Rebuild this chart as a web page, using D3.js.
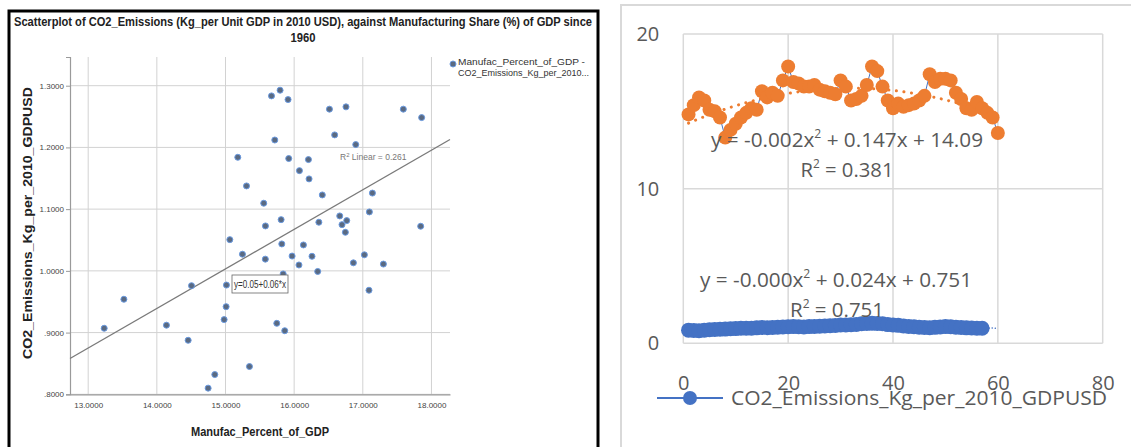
<!DOCTYPE html>
<html><head><meta charset="utf-8">
<script src="https://cdn.jsdelivr.net/npm/d3@7"></script>
<style>
html,body{margin:0;padding:0;background:#fff;}
svg{display:block;}
</style></head>
<body>
<svg id="c" width="1131" height="447"></svg>
<script>
// ---------- LEFT PANEL DATA (SPSS scatter) ----------
const manufPct = [13.233,13.52,14.14,14.456,14.505,14.747,14.844,14.98,15.009,15.014,15.154,15.247,15.349,15.58,15.747,15.84,15.863,15.97,16.07,16.26,16.343,16.863,17.023,17.09,17.3,15.67,15.795,15.911,15.718,15.179,15.921,16.077,15.306,15.557,15.582,15.81,15.82,15.063,16.514,16.755,17.59,17.857,16.59,16.897,16.208,16.217,16.41,17.14,17.096,16.664,16.766,16.697,16.746,16.36,17.843,16.135];
const co2Kg = [0.907,0.954,0.912,0.8875,0.976,0.810,0.832,0.921,0.942,0.977,0.972,1.027,0.845,1.019,0.915,0.995,0.903,1.024,1.0095,1.0236,0.999,1.013,1.026,0.9686,1.011,1.2835,1.2927,1.2775,1.212,1.184,1.182,1.1624,1.1376,1.1096,1.0728,1.083,1.0436,1.0506,1.262,1.2657,1.262,1.2483,1.2203,1.2046,1.1803,1.149,1.123,1.126,1.0955,1.089,1.0814,1.0749,1.0625,1.0788,1.0723,1.042];
const leftXTicks = [13,14,15,16,17,18];
const leftXTickLabels = ["13.0000","14.0000","15.0000","16.0000","17.0000","18.0000"];
const leftYTicks = [0.8,0.9,1.0,1.1,1.2,1.3];
const leftYTickLabels = [".8000",".9000","1.0000","1.1000","1.2000","1.3000"];
const linearFit = [0.0417, 0.0641]; // intercept, slope
const leftTitle1 = "Scatterplot of CO2_Emissions (Kg_per Unit GDP in 2010 USD),  against Manufacturing Share (%) of GDP since";
const leftTitle2 = "1960";
const leftXTitle = "Manufac_Percent_of_GDP";
const leftYTitle = "CO2_Emissions_Kg_per_2010_GDPUSD";
const leftLegend = ["Manufac_Percent_of_GDP -","CO2_Emissions_Kg_per_2010..."];
const fitLabel = "y=0.05+0.06*x";

// ---------- RIGHT PANEL DATA (Excel) ----------
const manufSeries = [14.8,15.4,15.9,15.7,15.1,15.0,14.6,13.3,13.8,14.2,14.6,14.9,15.2,15.1,16.3,15.9,16.2,16.0,17.0,17.9,16.9,16.8,16.6,16.6,16.7,16.4,16.3,16.2,16.1,17.0,16.6,15.7,15.8,16.0,16.7,17.9,17.6,16.6,15.7,15.2,15.5,15.3,15.4,15.5,15.7,16.0,17.4,16.9,17.1,17.1,17.0,16.2,15.8,15.2,15.1,15.6,15.2,14.9,14.6,13.6];
const co2Series = [0.85,0.83,0.81,0.84,0.88,0.90,0.91,0.92,0.94,0.95,0.97,0.98,0.98,1.00,1.02,1.01,1.02,1.04,1.05,1.07,1.08,1.07,1.06,1.08,1.09,1.11,1.12,1.14,1.15,1.18,1.18,1.20,1.22,1.26,1.28,1.29,1.28,1.26,1.21,1.18,1.16,1.12,1.09,1.07,1.04,1.02,1.01,1.03,1.05,1.08,1.07,1.04,1.02,1.00,0.99,0.97,0.97];
const manufTrend = [-0.00235, 0.1505, 14.09]; // a,b,c
const co2Trend = [-0.00034, 0.024, 0.751];
const rightXTicks = [0,20,40,60,80];
const rightYTicks = [0,10,20];
const rightLegend = "CO2_Emissions_Kg_per_2010_GDPUSD";

const svg = d3.select("#c");
const FONT = "'Liberation Sans', Arial, sans-serif";

// ================= LEFT PANEL =================
const L = svg.append("g");
L.append("rect").attr("x",9).attr("y",11).attr("width",589).attr("height",460)
  .attr("fill","#fff").attr("stroke","#000").attr("stroke-width",3);

const lx = d3.scaleLinear().domain([12.735, 18.27]).range([70, 450]);
const ly = d3.scaleLinear().domain([0.8, 1.3465]).range([394.3, 57]);

L.append("g").selectAll("line").data(leftXTicks).join("line")
  .attr("x1",d=>lx(d)).attr("x2",d=>lx(d)).attr("y1",ly.range()[1]).attr("y2",ly.range()[0])
  .attr("stroke","#d2d2d2").attr("stroke-width",1);
L.append("g").selectAll("line").data(leftYTicks).join("line")
  .attr("x1",70).attr("x2",450).attr("y1",d=>ly(d)).attr("y2",d=>ly(d))
  .attr("stroke","#d2d2d2").attr("stroke-width",1);

const yAxL = L.append("g").attr("transform","translate(70,0)")
  .call(d3.axisLeft(ly).tickValues(leftYTicks).tickSize(4).tickPadding(2)
    .tickFormat((d,i)=>leftYTickLabels[i]));
const xAxL = L.append("g").attr("transform","translate(0,394.3)")
  .call(d3.axisBottom(lx).tickValues(leftXTicks).tickSize(0).tickPadding(8)
    .tickFormat((d,i)=>leftXTickLabels[i]));
[yAxL,xAxL].forEach(a=>{
  a.select(".domain").attr("stroke","#9a9a9a").attr("stroke-width",1.2);
  a.selectAll(".tick line").attr("stroke","#9a9a9a");
  a.selectAll("text").attr("font-family",FONT).attr("font-size",8).attr("fill","#444");
});

L.append("line")
  .attr("x1",lx(lx.domain()[0])).attr("y1",ly(linearFit[0]+linearFit[1]*lx.domain()[0]))
  .attr("x2",lx(lx.domain()[1])).attr("y2",ly(linearFit[0]+linearFit[1]*lx.domain()[1]))
  .attr("stroke","#7a7a7a").attr("stroke-width",1.3);

L.append("g").selectAll("circle").data(manufPct).join("circle")
  .attr("cx",d=>lx(d)).attr("cy",(d,i)=>ly(co2Kg[i])).attr("r",3)
  .attr("fill","#5a6a82").attr("stroke","#6a9ae0").attr("stroke-width",1);

const fb = L.append("g");
fb.append("rect").attr("x",232).attr("y",275).attr("width",56).attr("height",18)
  .attr("fill","#fff").attr("stroke","#666").attr("stroke-width",0.8);
fb.append("text").attr("x",234).attr("y",288).text(fitLabel)
  .attr("font-family",FONT).attr("font-size",10).attr("fill","#333")
  .attr("textLength",52).attr("lengthAdjust","spacingAndGlyphs");
const r2t = L.append("text").attr("x",340).attr("y",160).attr("font-family",FONT)
  .attr("font-size",8.5).attr("fill","#777");
r2t.append("tspan").text("R");
r2t.append("tspan").text("2").attr("font-size",6).attr("dy",-3);
r2t.append("tspan").text(" Linear = 0.261").attr("dy",3);

L.append("text").attr("x",303).attr("y",26).attr("text-anchor","middle").text(leftTitle1)
  .attr("font-family",FONT).attr("font-size",12).attr("font-weight","bold").attr("fill","#222")
  .attr("textLength",578).attr("lengthAdjust","spacingAndGlyphs");
L.append("text").attr("x",303).attr("y",42).attr("text-anchor","middle").text(leftTitle2)
  .attr("font-family",FONT).attr("font-size",12).attr("font-weight","bold").attr("fill","#222")
  .attr("textLength",25).attr("lengthAdjust","spacingAndGlyphs");
L.append("text").attr("x",260).attr("y",436).attr("text-anchor","middle").text(leftXTitle)
  .attr("font-family",FONT).attr("font-size",12.5).attr("font-weight","bold").attr("fill","#222")
  .attr("textLength",138).attr("lengthAdjust","spacingAndGlyphs");
L.append("text").attr("transform","translate(32,223) rotate(-90)").attr("text-anchor","middle").text(leftYTitle)
  .attr("font-family",FONT).attr("font-size",13).attr("font-weight","bold").attr("fill","#222")
  .attr("textLength",272).attr("lengthAdjust","spacingAndGlyphs");

L.append("circle").attr("cx",453).attr("cy",64).attr("r",3)
  .attr("fill","#5a6a82").attr("stroke","#6a9ae0").attr("stroke-width",1);
leftLegend.forEach((t,i)=>{
  L.append("text").attr("x",458).attr("y",65+i*10.5).text(t)
    .attr("font-family",FONT).attr("font-size",9).attr("fill","#333")
    .attr("textLength",i===0?127:131).attr("lengthAdjust","spacingAndGlyphs");
});

// ================= RIGHT PANEL =================
const R = svg.append("g");
R.append("rect").attr("x",621).attr("y",5).attr("width",600).attr("height",500)
  .attr("fill","#fff").attr("stroke","#d9d9d9").attr("stroke-width",2);

const rx = d3.scaleLinear().domain([0,80]).range([683.3,1102.7]);
const ry = d3.scaleLinear().domain([0,20]).range([343.3,34]);

R.append("g").selectAll("line").data(rightXTicks).join("line")
  .attr("x1",d=>rx(d)).attr("x2",d=>rx(d)).attr("y1",ry(20)).attr("y2",ry(0))
  .attr("stroke","#d9d9d9").attr("stroke-width",1.5);
R.append("g").selectAll("line").data(rightYTicks).join("line")
  .attr("x1",rx(0)).attr("x2",rx(80)).attr("y1",d=>ry(d)).attr("y2",d=>ry(d))
  .attr("stroke","#d9d9d9").attr("stroke-width",1.5);

const TF = "'Open Sans', 'Noto Sans', sans-serif";
const yAxR = R.append("g").attr("transform",`translate(${rx(0)},0)`)
  .call(d3.axisLeft(ry).tickValues(rightYTicks).tickSize(0).tickPadding(24).tickFormat(d3.format("d")));
const xAxR = R.append("g").attr("transform",`translate(0,${ry(0)})`)
  .call(d3.axisBottom(rx).tickValues(rightXTicks).tickSize(0).tickPadding(30).tickFormat(d3.format("d")));
[yAxR,xAxR].forEach(a=>{
  a.select(".domain").remove();
  a.selectAll("text").attr("font-family",TF).attr("font-size",20).attr("fill","#595959");
});
xAxR.selectAll("text").attr("dy","0.35em").attr("y",40);

const trendXs = d3.range(1, 60.01, 0.25);
function trendPath(c){ return d3.line().x(d=>rx(d)).y(d=>ry(c[0]*d*d+c[1]*d+c[2]))(trendXs); }

const idxM = manufSeries.map((d,i)=>i+1);
R.append("path").attr("d",d3.line().x((d,i)=>rx(idxM[i])).y(d=>ry(d))(manufSeries))
  .attr("fill","none").attr("stroke","#4472c4").attr("stroke-width",1);
R.append("path").attr("d",trendPath(manufTrend)).attr("fill","none")
  .attr("stroke","#ed7d31").attr("stroke-width",3).attr("stroke-linecap","round").attr("stroke-dasharray","0.1,7.5");
R.append("g").selectAll("circle").data(manufSeries).join("circle")
  .attr("cx",(d,i)=>rx(idxM[i])).attr("cy",d=>ry(d)).attr("r",7).attr("fill","#ed7d31");

const idxC = co2Series.map((d,i)=>i+1);
R.append("path").attr("d",trendPath(co2Trend)).attr("fill","none")
  .attr("stroke","#4472c4").attr("stroke-width",1.5).attr("stroke-linecap","round").attr("stroke-dasharray","0.1,3");
R.append("path").attr("d",d3.line().x((d,i)=>rx(idxC[i])).y(d=>ry(d))(co2Series))
  .attr("fill","none").attr("stroke","#4472c4").attr("stroke-width",2);
R.append("g").selectAll("circle").data(co2Series).join("circle")
  .attr("cx",(d,i)=>rx(idxC[i])).attr("cy",d=>ry(d)).attr("r",7.5).attr("fill","#4472c4");

function eq(x,y,a,b,len){
  const t = R.append("text").attr("x",x).attr("y",y).attr("text-anchor","middle")
    .attr("font-family",TF).attr("font-size",20.5).attr("fill","#595959");
  t.append("tspan").text(a);
  t.append("tspan").text("2").attr("font-size",12).attr("dy",-9);
  t.append("tspan").text(b).attr("dy",9);
  if(len) t.attr("textLength",len).attr("lengthAdjust","spacingAndGlyphs");
  return t;
}
eq(847,147,"y = -0.002x"," + 0.147x + 14.09",272);
eq(847,177,"R"," = 0.381",93);
eq(836,287,"y = -0.000x"," + 0.024x + 0.751",272);
eq(837,317,"R"," = 0.751",94);

R.append("line").attr("x1",657).attr("x2",723).attr("y1",398).attr("y2",398)
  .attr("stroke","#4472c4").attr("stroke-width",2);
R.append("circle").attr("cx",690).attr("cy",398).attr("r",7).attr("fill","#4472c4");
R.append("text").attr("x",731).attr("y",405).text(rightLegend)
  .attr("font-family",TF).attr("font-size",20).attr("fill","#595959")
  .attr("textLength",376).attr("lengthAdjust","spacingAndGlyphs");
</script>
</body></html>
